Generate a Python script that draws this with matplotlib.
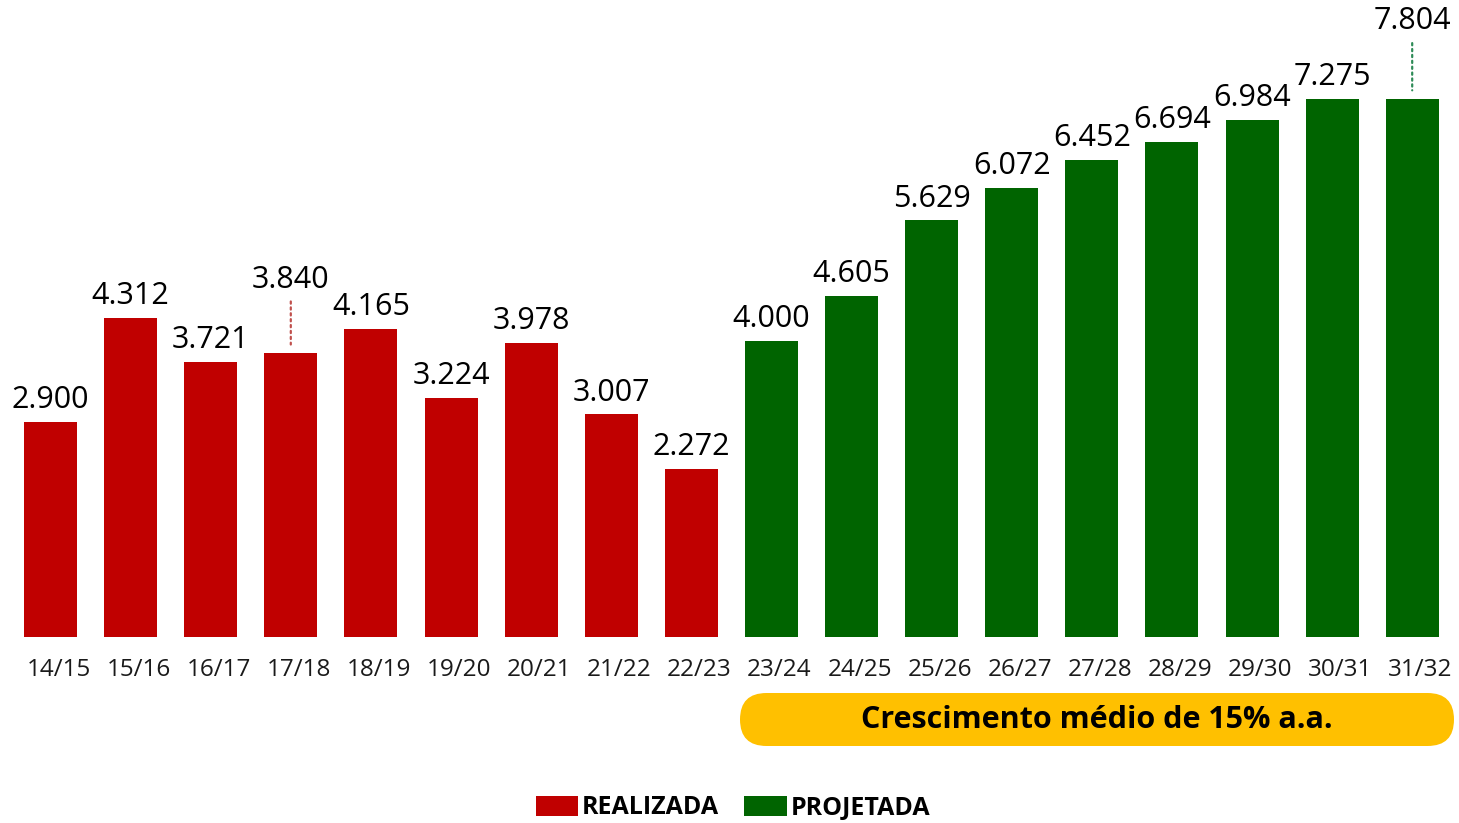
import matplotlib.pyplot as plt
import matplotlib.transforms as mtransforms
from matplotlib.patches import FancyBboxPatch, Patch

safras = ['14/15', '15/16', '16/17', '17/18', '18/19', '19/20', '20/21', '21/22', '22/23',
          '23/24', '24/25', '25/26', '26/27', '27/28', '28/29', '29/30', '30/31', '31/32']
valores = [2.900, 4.312, 3.721, 3.840, 4.165, 3.224, 3.978, 3.007, 2.272,
           4.000, 4.605, 5.629, 6.072, 6.452, 6.694, 6.984, 7.275, 7.804]
tipo = ['R'] * 9 + ['P'] * 9

cores = {'R': '#C00000', 'P': '#006400'}
linha_cor = {'R': '#C0504D', 'P': '#2E8B57'}

plt.rcParams['font.family'] = ['Open Sans', 'DejaVu Sans']

W, H = 1459, 823
fig = plt.figure(figsize=(W / 100, H / 100), dpi=100)

base = 637          # baseline in px from top
s = 74.0            # px per unit
ax = fig.add_axes([0, (H - base) / H, 1, base / H])
step = 80.1
xmin = -50.5 / step
ax.set_xlim(xmin, xmin + W / step)
ax.set_ylim(0, base / s)
for sp in ax.spines.values():
    sp.set_visible(False)
ax.set_yticks([])

# last bar drawn clipped to the previous one (axis break)
alturas = list(valores)
alturas[-1] = valores[-2]

x = range(len(safras))
ax.bar(x, alturas, width=53 / step, color=[cores[t] for t in tipo])
ax.set_xticks(list(x))
ax.set_xticklabels(safras, fontsize=17.5, color='#1a1a1a')
ax.tick_params(axis='x', length=0, pad=15)
desloc = mtransforms.ScaledTranslation(8 / 100, 0, fig.dpi_scale_trans)
for lb in ax.get_xticklabels():
    lb.set_transform(lb.get_transform() + desloc)

# labels raised with a dotted leader
elevar = {3: 37, 17: 40}
for i, (v, h) in enumerate(zip(valores, alturas)):
    txt = f'{v:.3f}'
    off = elevar.get(i, 0)
    ax.annotate(txt, (i, h), xytext=(0, 5 + off), textcoords='offset points',
                ha='center', va='bottom', fontsize=22, color='#000000')
    if off:
        ax.annotate('', (i, h), xytext=(0, off + 2), textcoords='offset points',
                    arrowprops=dict(arrowstyle='-', linestyle=':', linewidth=1.6,
                                    color=linha_cor[tipo[i]], shrinkA=2, shrinkB=6))

# banner (drawn in inches so the ends are truly round)
bx0, bx1, by0, by1 = 740, 1454, 693, 746
r = (by1 - by0) / 2
banner = FancyBboxPatch((bx0 / 100, (H - by1) / 100), (bx1 - bx0) / 100, (by1 - by0) / 100,
                        boxstyle=f'round,pad=0,rounding_size={r / 100}',
                        transform=fig.dpi_scale_trans, facecolor='#FFC000', edgecolor='none')
fig.patches.append(banner)
fig.text((bx0 + bx1) / 2 / W, 1 - (by0 + by1) / 2 / H, 'Crescimento médio de 15% a.a.',
         ha='center', va='center', fontsize=22, fontweight='bold', color='#000000')

handles = [Patch(facecolor=cores['R'], label='REALIZADA'),
           Patch(facecolor=cores['P'], label='PROJETADA')]
fig.legend(handles=handles, loc='center', bbox_to_anchor=(733 / W, 1 - 808 / H), ncol=2,
           frameon=False, prop={'weight': 'bold', 'size': 18}, handlelength=1.7,
           handleheight=0.9, handletextpad=0.15, columnspacing=1.0)

fig.savefig('out.png', dpi=100)
